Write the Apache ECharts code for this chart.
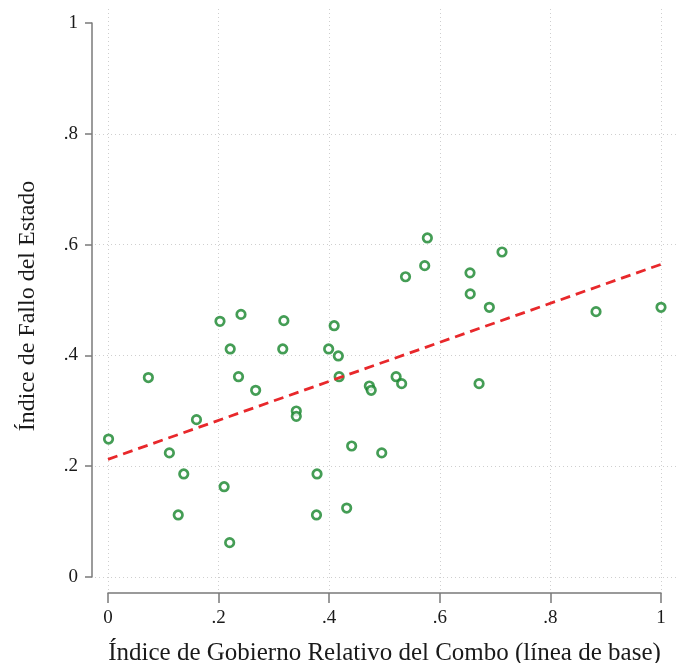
<!DOCTYPE html>
<html><head><meta charset="utf-8">
<script src="https://cdn.jsdelivr.net/npm/echarts@6/dist/echarts.min.js"></script>
<style>html,body{margin:0;padding:0;background:#fff}#c{width:684px;height:663px}</style>
</head><body><div id="c"></div>
<script>
// Data
const xValues = [0.001,0.073,0.111,0.137,0.127,0.160,0.2025,0.2405,0.221,0.236,0.267,0.210,0.220,0.318,0.316,0.3405,0.3405,0.378,0.377,0.409,0.399,0.4165,0.418,0.4406,0.4316,0.4726,0.476,0.495,0.521,0.531,0.671,0.655,0.6896,0.8825,1.0,0.5775,0.5727,0.538,0.7125,0.6546];
const yValues = [0.249,0.360,0.224,0.186,0.112,0.284,0.4615,0.474,0.4116,0.3616,0.337,0.163,0.062,0.4627,0.4116,0.2996,0.290,0.186,0.112,0.4536,0.4116,0.399,0.3616,0.2365,0.1245,0.3448,0.337,0.224,0.3616,0.349,0.349,0.511,0.4868,0.479,0.4868,0.612,0.562,0.542,0.5866,0.549];
const fitX = [0, 1];
const fitY = [0.2124, 0.5644];
const xTicks = [0, 0.2, 0.4, 0.6, 0.8, 1];
const yTicks = [0, 0.2, 0.4, 0.6, 0.8, 1];
const yGridTicks = [0, 0.2, 0.4, 0.6, 0.8];
const xTitle = 'Índice de Gobierno Relativo del Combo (línea de base)';
const yTitle = 'Índice de Fallo del Estado';

const FONT = '"Liberation Serif", "Times New Roman", serif';
const fmt = v => { if (v === 0) return '0'; if (v === 1) return '1'; return String(Math.round(v*10)/10).replace(/^0/, ''); };

const chart = echarts.init(document.getElementById('c'), null, {renderer: 'canvas'});
const gridStyle = {show: true, lineStyle: {color: '#cfcfcf', width: 1, type: [1, 3]}};
chart.setOption({
  animation: false,
  backgroundColor: '#ffffff',
  grid: [
    {left: 108, right: 23, top: 23, bottom: 86, containLabel: false, outerBoundsMode: 'none'},
    {left: 95, right: 7, top: 9, bottom: 73, containLabel: false, outerBoundsMode: 'none'}
  ],
  xAxis: [
    {gridIndex: 0, type: 'value', min: 0, max: 1, interval: 0.2, offset: 16,
     axisLine: {show: true, onZero: false, lineStyle: {color: '#7a7a7a', width: 1.5}},
     axisTick: {show: true, length: 10, lineStyle: {color: '#7a7a7a', width: 1.5}},
     axisLabel: {formatter: fmt, color: '#1a1a1a', fontFamily: FONT, fontSize: 19, margin: 16},
     splitLine: {show: false},
     name: xTitle, nameLocation: 'middle', nameGap: 48,
     nameTextStyle: {fontFamily: FONT, fontSize: 25, color: '#1a1a1a'}},
    {gridIndex: 1, type: 'value', min: -0.0235, max: 1.0289,
     axisLine: {show: false}, axisLabel: {show: false},
     axisTick: {show: false, customValues: xTicks},
     splitLine: gridStyle}
  ],
  yAxis: [
    {gridIndex: 0, type: 'value', min: 0, max: 1, interval: 0.2, offset: 16,
     axisLine: {show: true, onZero: false, lineStyle: {color: '#7a7a7a', width: 1.5}},
     axisTick: {show: true, length: 7, lineStyle: {color: '#7a7a7a', width: 1.5}},
     axisLabel: {formatter: fmt, color: '#1a1a1a', fontFamily: FONT, fontSize: 19, margin: 14},
     splitLine: {show: false},
     name: yTitle, nameLocation: 'middle', nameGap: 52,
     nameTextStyle: {fontFamily: FONT, fontSize: 24, color: '#1a1a1a', padding: [0, 12, 0, 0]}},
    {gridIndex: 1, type: 'value', min: -0.0235, max: 1.0253,
     axisLine: {show: false}, axisLabel: {show: false},
     axisTick: {show: false, customValues: yGridTicks},
     splitLine: gridStyle}
  ],
  series: [
    {type: 'scatter', xAxisIndex: 0, yAxisIndex: 0,
     data: xValues.map((x, i) => [x, yValues[i]]),
     symbol: 'circle', symbolSize: 8.5,
     itemStyle: {color: '#ffffff', borderColor: '#15842a', borderWidth: 2.7},
     z: 3},
    {type: 'line', xAxisIndex: 0, yAxisIndex: 0,
     data: fitX.map((x, i) => [x, fitY[i]]),
     showSymbol: false, symbol: 'none',
     lineStyle: {color: '#e8282b', width: 2.8, type: [10, 6]},
     z: 4}
  ]
});
</script></body></html>
